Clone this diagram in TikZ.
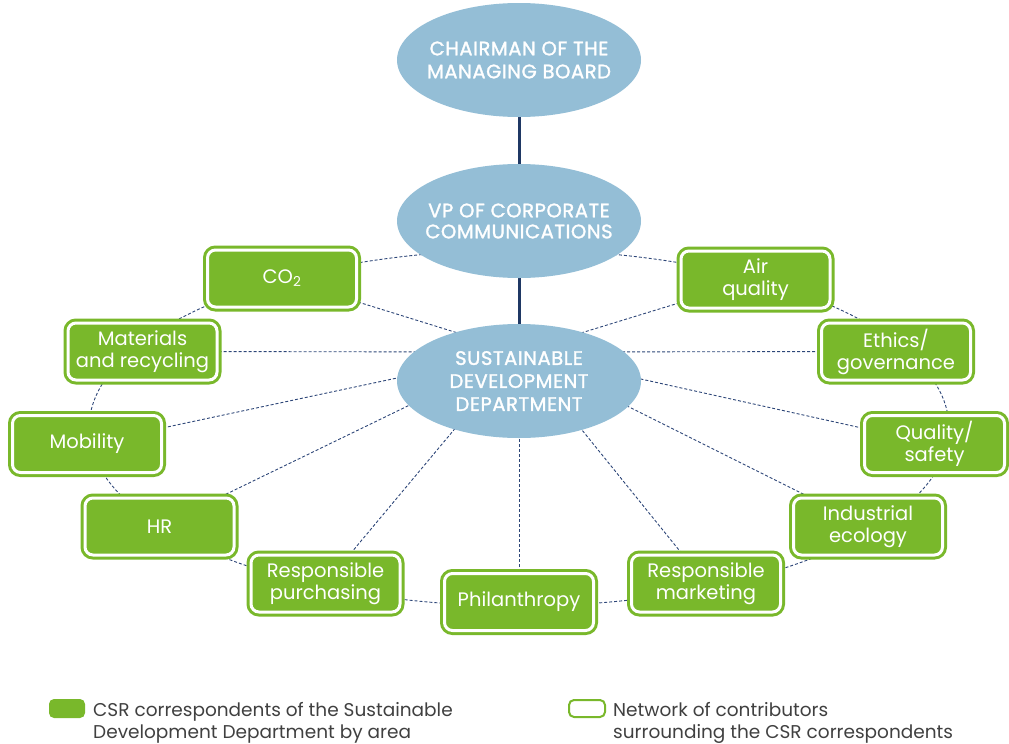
\documentclass[tikz,border=0pt]{standalone}
\usepackage{fontspec}
\setmainfont{Poppins}
\newfontfamily\ellfont[LetterSpace=3,FakeBold=1.5]{Poppins}
\usetikzlibrary{shapes.geometric,backgrounds}
\definecolor{csrgreen}{RGB}{121,184,43}
\definecolor{ellblue}{RGB}{148,190,214}
\definecolor{navyline}{RGB}{31,56,100}
\definecolor{dashnavy}{RGB}{45,70,120}
\definecolor{legendgray}{RGB}{64,64,64}
\tikzset{
  orgell/.style={ellipse, fill=ellblue, minimum width=244pt, minimum height=114pt,
    inner xsep=-14pt, inner ysep=0pt, text=white, align=center, font=\ellfont\fontsize{19.5}{23}\selectfont},
  csrbox/.style={rectangle, rounded corners=8pt, fill=csrgreen, draw=csrgreen,
    line width=3pt, double=white, double distance=3pt, minimum width=149pt,
    minimum height=57pt, inner sep=0pt, text=white, align=center,
    font=\fontsize{19.5}{22}\selectfont},
  spoke/.style={draw=dashnavy, line width=0.9pt, dash pattern=on 3pt off 2pt},
  hier/.style={draw=navyline, line width=3pt},
  legfilled/.style={rectangle, rounded corners=5pt, fill=csrgreen, minimum width=36pt, minimum height=19pt, inner sep=0pt},
  legopen/.style={rectangle, rounded corners=5pt, fill=white, draw=csrgreen, line width=2pt, minimum width=36pt, minimum height=17pt, inner sep=0pt},
  legtext/.style={anchor=north west, align=left, inner sep=0pt, text=legendgray, font=\fontsize{18.5}{22}\selectfont},
}
\begin{document}
\begin{tikzpicture}[x=1pt,y=-1pt]
\useasboundingbox (0,0) rectangle (1009,744);
% ellipses
\node[orgell] (chair) at (519,60) {CHAIRMAN OF THE\\MANAGING BOARD};
\node[orgell, font=\ellfont\fontsize{19.5}{21}\selectfont] (vp) at (519,221) {VP OF CORPORATE\\COMMUNICATIONS};
\node[orgell] (sdd) at (519,381) {SUSTAINABLE\\DEVELOPMENT\\DEPARTMENT};
\coordinate (hub) at (519,352);
% boxes
\node[csrbox] (co2) at (282,278.5) {CO\textsubscript{2}};
\node[csrbox] (mat) at (142.5,351.5) {Materials\\and recycling};
\node[csrbox] (mob) at (87,444) {Mobility};
\node[csrbox] (hr) at (159.5,526.5) {HR};
\node[csrbox] (pur) at (325.5,583.5) {Responsible\\purchasing};
\node[csrbox] (phi) at (519,602) {Philanthropy};
\node[csrbox] (mkt) at (706,583.5) {Responsible\\marketing};
\node[csrbox] (ind) at (868,526.5) {Industrial\\ecology};
\node[csrbox, minimum width=140pt] (qua) at (934.5,444) {Quality/\\safety};
\node[csrbox] (eth) at (896,351.5) {Ethics/\\governance};
\node[csrbox] (air) at (755.5,279.5) {Air\\quality};
% background connectors
\begin{scope}[on background layer]
  \draw[spoke] (519,428) ellipse [x radius=430, y radius=178];
  \foreach \b in {co2,mat,mob,hr,pur,phi,mkt,ind,qua,eth,air}
    \draw[spoke] (\b) -- (hub);
  \draw[hier] (chair.south) -- (vp.north);
  \draw[hier] (vp.south) -- (sdd.north);
\end{scope}
% legend
\node[legfilled] (lg1) at (67,708.5) {};
\node[legtext] (lt1) at (93,702) {CSR correspondents of the Sustainable\\Development Department by area};
\node[legopen] (lg2) at (587,708.5) {};
\node[legtext] (lt2) at (613,702) {Network of contributors\\surrounding the CSR correspondents};
\end{tikzpicture}
\end{document}
